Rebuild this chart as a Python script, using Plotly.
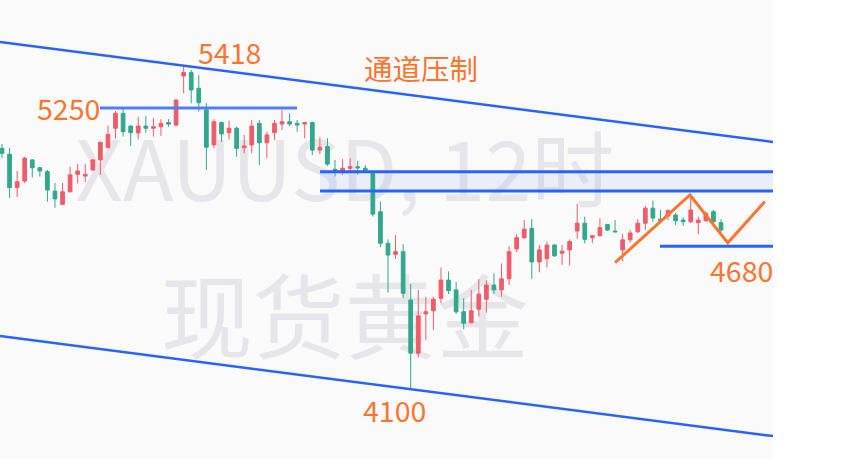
import plotly.graph_objects as go

# ---- data (12h candles, XAUUSD) ----
IDX = list(range(96))
OPEN = [5085,5061,4925,4952,5038,5006,4990,4911,4857,4908,4979,4972,4997,5038,5088,5167,5228,5176,5148,5176,
        5167,5173,5190,5180,5380,5394,5330,5242,5099,5190,5149,5167,5088,5099,5187,5108,5149,5184,5194,5187,
        5184,5190,5078,5092,5000,4990,5004,5010,5004,4983,4827,4698,4653,4664,4467,4250,4410,4423,4474,4548,
        4508,4419,4374,4429,4470,4528,4508,4553,4675,4721,4759,4622,4635,4691,4657,4671,4748,4780,4721,4729,
        4775,4748,4671,4712,4745,4780,4841,4796,4809,4813,4793,4786,4782,4790,4827,4782]
HIGH = [5103,5087,4993,5051,5040,5010,4997,4944,4944,5010,5021,5021,5040,5111,5178,5237,5251,5180,5214,5217,
        5208,5204,5204,5285,5418,5405,5384,5269,5204,5194,5198,5173,5140,5201,5201,5153,5201,5242,5228,5201,
        5191,5194,5130,5126,5038,5041,5045,5034,5017,4990,4868,4714,4732,4694,4532,4508,4480,4480,4599,4583,
        4541,4474,4508,4552,4546,4576,4616,4685,4735,4793,4797,4691,4705,4694,4691,4714,4859,4807,4732,4800,
        4776,4793,4735,4752,4796,4850,4872,4834,4836,4822,4804,4891,4807,4827,4834,4796]
LOW = [5046,4883,4887,4943,4966,4970,4868,4843,4854,4906,4943,4947,4993,4977,5086,5126,5133,5095,5122,5148,
       5133,5136,5173,5176,5310,5269,5235,4997,5085,5112,5122,5051,5065,5065,5017,5045,5119,5160,5176,5153,
       5126,5058,5062,5013,4970,4977,4990,4977,4986,4807,4682,4497,4634,4474,4100,4232,4304,4345,4454,4491,
       4410,4348,4372,4399,4415,4491,4480,4528,4662,4716,4553,4580,4599,4643,4610,4607,4716,4698,4698,4725,
       4748,4742,4625,4701,4740,4752,4786,4780,4793,4772,4769,4780,4736,4786,4780,4739]
CLOSE = [5065,4925,4949,5045,5006,4993,4915,4879,4908,4977,4993,4979,5038,5110,5142,5228,5153,5149,5176,5167,
         5173,5187,5184,5282,5394,5323,5271,5090,5194,5144,5167,5085,5095,5176,5108,5140,5187,5194,5184,5180,
         5190,5078,5090,5021,4990,5004,5010,5006,4994,4817,4698,4650,4664,4494,4250,4402,4419,4470,4548,4505,
         4419,4372,4423,4491,4528,4508,4553,4664,4721,4756,4622,4671,4691,4647,4666,4705,4780,4714,4729,4762,
         4752,4745,4712,4740,4780,4841,4801,4790,4831,4790,4786,4834,4793,4820,4786,4752]

# drawn levels / annotations
LEVEL_5250 = 5250
LEVEL_4680 = 4686
ZONE_TOP, ZONE_BOTTOM = 4990, 4911
CHANNEL_UPPER = [5519, 5111]
CHANNEL_LOWER = [4320, 3912]
PATH_X = [81.0, 90.9, 95.9, 100.8]
PATH_Y = [4619, 4895, 4700, 4868]

X_RANGE = [-0.264, 101.87]
Y_RANGE = [3818.6, 5689.9]

RED = '#f05b6a'
GREEN = '#31a88d'
BLUE = '#2962ff'
ORANGE = '#fb752f'
FONT = 'Noto Sans CJK SC'

fig = go.Figure()
fig.add_trace(go.Candlestick(
    x=IDX, open=OPEN, high=HIGH, low=LOW, close=CLOSE,
    increasing=dict(line=dict(color=RED, width=1), fillcolor=RED),
    decreasing=dict(line=dict(color=GREEN, width=1), fillcolor=GREEN),
    hoverinfo='skip', showlegend=False))

fig.add_trace(go.Scatter(x=PATH_X, y=PATH_Y, mode='lines',
                         line=dict(color=ORANGE, width=3), hoverinfo='skip', showlegend=False))

# watermark (below traces)
fig.add_shape(type='rect', xref='paper', yref='paper', x0=0.146, x1=0.746, y0=0.532, y1=0.692,
              line=dict(width=0), fillcolor='rgba(0,0,0,0)', layer='below',
              label=dict(text='XAUUSD, 12时', textposition='middle center',
                         font=dict(size=83, color='#e6e6ea', family=FONT)))
fig.add_shape(type='rect', xref='paper', yref='paper', x0=0.146, x1=0.746, y0=0.212, y1=0.367,
              line=dict(width=0), fillcolor='rgba(0,0,0,0)', layer='below',
              label=dict(text='现货黄金', textposition='middle center',
                         font=dict(size=92, color='#e6e6ea', family=FONT)))

# channel
fig.add_shape(type='line', x0=X_RANGE[0], x1=X_RANGE[1], y0=CHANNEL_UPPER[0], y1=CHANNEL_UPPER[1],
              line=dict(color=BLUE, width=2.5))
fig.add_shape(type='line', x0=X_RANGE[0], x1=X_RANGE[1], y0=CHANNEL_LOWER[0], y1=CHANNEL_LOWER[1],
              line=dict(color=BLUE, width=2.5))
# 5250 level
fig.add_shape(type='line', x0=12.95, x1=38.98, y0=LEVEL_5250, y1=LEVEL_5250,
              line=dict(color='#4f7ef6', width=3))
# zone
fig.add_shape(type='rect', x0=42.02, x1=X_RANGE[1], y0=ZONE_BOTTOM, y1=ZONE_TOP,
              line=dict(width=0), fillcolor='rgba(41,98,255,0.08)', layer='below')
for lv in (ZONE_TOP, ZONE_BOTTOM):
    fig.add_shape(type='line', x0=42.02, x1=X_RANGE[1], y0=lv, y1=lv,
                  line=dict(color=BLUE, width=3))
# 4680 level
fig.add_shape(type='line', x0=86.94, x1=X_RANGE[1], y0=LEVEL_4680, y1=LEVEL_4680,
              line=dict(color=BLUE, width=3))

tf = dict(size=28.5, color=ORANGE, family=FONT)
fig.add_annotation(x=24, y=5418, text='5418', showarrow=False, font=tf,
                   xanchor='center', yanchor='middle', xshift=46, yshift=15)
fig.add_annotation(x=12.95, y=LEVEL_5250, text='5250', showarrow=False, font=tf,
                   xanchor='right', yanchor='middle', xshift=2)
fig.add_annotation(xref='paper', yref='paper', x=0.5446, y=0.852, text='通道压制', showarrow=False,
                   font=tf, xanchor='center', yanchor='middle')
fig.add_annotation(x=54, y=4100, text='4100', showarrow=False, font=tf,
                   xanchor='center', yanchor='middle', xshift=-16, yshift=-20)
fig.add_annotation(xref='paper', x=1, y=LEVEL_4680, text='4680', showarrow=False, font=tf,
                   xanchor='right', yanchor='middle', xshift=2, yshift=-23)

fig.update_layout(
    width=867, height=459,
    margin=dict(l=0, r=94, t=0, b=0),
    paper_bgcolor='white', plot_bgcolor='#fafafa',
    xaxis=dict(range=X_RANGE, visible=False, rangeslider=dict(visible=False), fixedrange=True),
    yaxis=dict(range=Y_RANGE, visible=False, fixedrange=True),
    showlegend=False,
)
fig.write_html('out.html', config={'displayModeBar': False},
               post_script="document.body.style.margin='0';document.body.style.overflow='hidden';")
